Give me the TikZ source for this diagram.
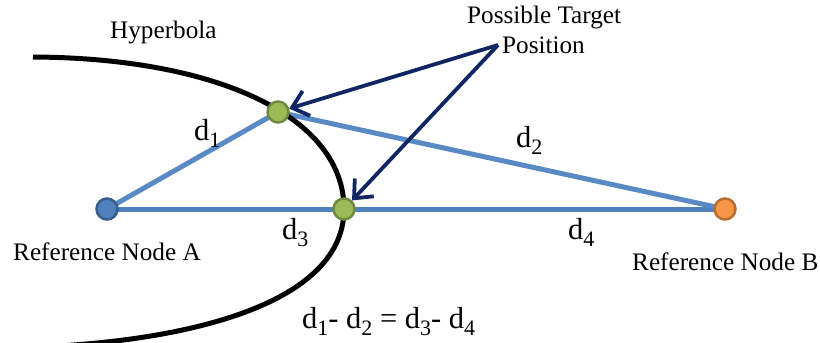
\documentclass[tikz,border=0pt]{standalone}
\usepackage{fontspec}
\setmainfont{Liberation Serif}
\newfontfamily\timesf{Liberation Serif}
\usetikzlibrary{arrows.meta,backgrounds}
\definecolor{lineblue}{HTML}{4F81BD}
\definecolor{tribl}{HTML}{5A8AC6}
\definecolor{afill}{HTML}{4F81BD}
\definecolor{aborder}{HTML}{385D8A}
\definecolor{gfill}{HTML}{9BBB59}
\definecolor{gborder}{HTML}{71893F}
\definecolor{ofill}{HTML}{F79646}
\definecolor{oborder}{HTML}{B66D31}
\definecolor{navy}{RGB}{16,38,98}
\newcommand{\dsub}[1]{d\raisebox{-7.8pt}{\fontsize{22}{22}\selectfont #1}}
\tikzset{
  dot/.style={circle, inner sep=0pt, minimum size=21pt, line width=2.5pt},
  lbl/.style={inner sep=0pt, anchor=base west, font=\timesf\fontsize{25.2}{30}\selectfont},
  dlbl/.style={inner sep=0pt, anchor=base west, font=\timesf\fontsize{30.5}{34}\selectfont},
  conn/.style={line width=5pt},
  curve/.style={line width=5pt, black},
  pointer/.style={line width=3.8pt, navy, -{Straight Barb[length=15pt, width=26pt, line width=3.8pt]}}
}
\begin{document}
\begin{tikzpicture}[x=1pt, y=-1pt]
\useasboundingbox (0,0) rectangle (820,343);
\clip (0,0) rectangle (820,343);
% nodes
\node[dot, draw=aborder, fill=afill] (A) at (107,209) {};
\node[dot, draw=oborder, fill=ofill] (B) at (725,209) {};
\node[dot, draw=gborder, fill=gfill] (G1) at (278,112) {};
\node[dot, draw=gborder, fill=gfill] (G2) at (344,209) {};
% connectors behind the dots
\begin{scope}[on background layer]
  \draw[conn, lineblue] (A.center) -- (B.center);
  \draw[conn, tribl] (A.center) -- (G1.center) -- (B.center);
  \draw[curve] (33,57) .. controls (220,58) and (344,118) .. (G2.center);
  \draw[curve] (G2.center) .. controls (344,300) and (200,340) .. (40,347);
\end{scope}
% texts
\node[lbl] (hyp) at (110,38) {Hyperbola};
\node[lbl] (pt1) at (467,23) {Possible Target};
\node[lbl] (pt2) at (502,53) {Position};
\node[lbl] (refA) at (13,260) {Reference Node A};
\node[lbl] (refB) at (632,270) {Reference Node B};
\node[dlbl] (d1) at (194,140) {\dsub{1}};
\node[dlbl] (d2) at (516,147) {\dsub{2}};
\node[dlbl] (d3) at (282,239) {\dsub{3}};
\node[dlbl] (d4) at (568,239) {\dsub{4}};
\node[dlbl] (eq) at (302,328) {\dsub{1}- \dsub{2} = \dsub{3}- \dsub{4}};
% pointers
\coordinate (src) at (498,45);
\draw[pointer] (src) -- (G1);
\draw[pointer] (src) -- (G2);
\end{tikzpicture}
\end{document}
